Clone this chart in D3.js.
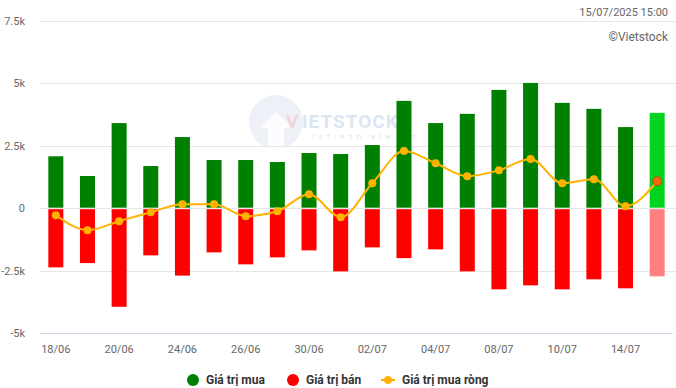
<html>
	<head>
		<script src="https://d3js.org/d3.v7.min.js"></script>
		<style>
			body { margin: 0; background: #fff; }
			svg { font-family: Roboto, sans-serif; }
			.axis text { fill: #666; font-size: 11px; }
			.legend text { fill: #333; font-size: 12px; font-weight: bold; }
		</style>
	</head>

	<body>
		<svg width="676" height="388"></svg>
	</body>

	<script>
		const dates = ['18/06', '19/06', '20/06', '23/06', '24/06', '25/06', '26/06', '27/06', '30/06', '01/07',
			'02/07', '03/07', '04/07', '07/07', '08/07', '09/07', '10/07', '11/07', '14/07', '15/07'];
		const buy = [2080, 1290, 3410, 1690, 2850, 1930, 1930, 1850, 2210, 2170,
			2530, 4300, 3410, 3780, 4740, 5020, 4220, 3980, 3250, 3820];
		const sell = [-2370, -2200, -3950, -1890, -2700, -1770, -2250, -1970, -1690, -2530,
			-1570, -2000, -1650, -2530, -3250, -3090, -3250, -2850, -3210, -2730];
		const net = [-280, -880, -520, -160, 160, 160, -320, -120, 560, -360,
			1000, 2290, 1800, 1280, 1520, 1970, 1000, 1160, 80, 1080];
		const yTicks = [-5000, -2500, 0, 2500, 5000, 7500];

		const svg = d3.select('svg');
		const last = dates.length - 1;

		const x = d3.scaleBand()
			.domain(dates)
			.range([40, 673])
			.paddingInner(0.526)
			.paddingOuter(0.263);

		const y = d3.scaleLinear()
			.domain([-5000, 7500])
			.range([333, 21]);

		// watermark
		const wm = svg.append('g');
		wm.append('circle').attr('cx', 276).attr('cy', 122).attr('r', 27)
			.attr('fill', '#9db4d2').attr('opacity', 0.18);
		wm.append('path').attr('d', 'M268,150 L268,128 L260,128 L276,112 L292,128 L284,128 L284,150 Z')
			.attr('fill', '#fff').attr('opacity', 0.8);
		wm.append('text').attr('x', 286).attr('y', 128)
			.attr('font-size', 19).attr('font-weight', 'bold').attr('fill', '#f4c4c8')
			.attr('letter-spacing', 1).attr('opacity', 0.6).text('V');
		wm.append('text').attr('x', 302).attr('y', 128)
			.attr('font-size', 19).attr('font-weight', 'bold').attr('fill', '#c6d6ea')
			.attr('letter-spacing', 1).attr('opacity', 0.6).text('IETSTOCK');
		wm.append('text').attr('x', 312).attr('y', 139)
			.attr('font-size', 8).attr('fill', '#c6d6ea')
			.attr('letter-spacing', 4).attr('opacity', 0.6).text('refresh always');

		// grid
		svg.append('g')
			.selectAll('line')
			.data(yTicks.filter(d => d !== -5000))
			.join('line')
			.attr('x1', 40).attr('x2', 676)
			.attr('y1', d => Math.round(y(d)) + 0.5)
			.attr('y2', d => Math.round(y(d)) + 0.5)
			.attr('stroke', '#e6e6e6');

		svg.append('line')
			.attr('x1', 40).attr('x2', 673)
			.attr('y1', 333.5).attr('y2', 333.5)
			.attr('stroke', '#ccd6eb');

		// y labels
		svg.append('g')
			.attr('class', 'axis')
			.selectAll('text')
			.data(yTicks)
			.join('text')
			.attr('x', 25)
			.attr('y', d => y(d) + 4)
			.attr('text-anchor', 'end')
			.text(d => d === 0 ? '0' : (d / 1000) + 'k');

		// x labels
		svg.append('g')
			.attr('class', 'axis')
			.selectAll('text')
			.data(dates.filter((d, i) => i % 2 === 0))
			.join('text')
			.attr('x', d => x(d) + x.bandwidth() / 2)
			.attr('y', 353)
			.attr('text-anchor', 'middle')
			.text(d => d);

		// bars
		svg.append('g')
			.selectAll('rect')
			.data(buy)
			.join('rect')
			.attr('x', (d, i) => x(dates[i]))
			.attr('y', d => y(d))
			.attr('width', x.bandwidth())
			.attr('height', d => y(0) - y(d) - 0.5)
			.attr('fill', (d, i) => i === last ? '#00d41e' : '#008000');

		svg.append('g')
			.selectAll('rect')
			.data(sell)
			.join('rect')
			.attr('x', (d, i) => x(dates[i]))
			.attr('y', y(0) + 1)
			.attr('width', x.bandwidth())
			.attr('height', d => y(d) - y(0) - 1)
			.attr('fill', (d, i) => i === last ? '#ff8080' : '#ff0000');

		// net line
		const line = d3.line()
			.x((d, i) => x(dates[i]) + x.bandwidth() / 2)
			.y(d => y(d))
			.curve(d3.curveMonotoneX);

		svg.append('path')
			.datum(net)
			.attr('d', line)
			.attr('fill', 'none')
			.attr('stroke', '#ffb300')
			.attr('stroke-width', 2);

		svg.append('g')
			.selectAll('circle')
			.data(net)
			.join('circle')
			.attr('cx', (d, i) => x(dates[i]) + x.bandwidth() / 2)
			.attr('cy', d => y(d))
			.attr('r', (d, i) => i === last ? 4.5 : 4)
			.attr('fill', (d, i) => i === last ? '#f26b0a' : '#ffb300')
			.attr('stroke', (d, i) => i === last ? '#b4520c' : 'none')
			.attr('stroke-width', 1);

		// titles
		svg.append('text')
			.attr('x', 668).attr('y', 16)
			.attr('text-anchor', 'end')
			.attr('font-size', 11).attr('fill', '#666')
			.text('15/07/2025 15:00');
		svg.append('text')
			.attr('x', 668).attr('y', 41)
			.attr('text-anchor', 'end')
			.attr('font-size', 12).attr('fill', '#666')
			.text('©Vietstock');

		// legend
		const legend = svg.append('g').attr('class', 'legend');
		legend.append('circle').attr('cx', 193).attr('cy', 380).attr('r', 6).attr('fill', '#008000');
		legend.append('text').attr('x', 206).attr('y', 384).text('Giá trị mua');
		legend.append('circle').attr('cx', 293).attr('cy', 380).attr('r', 6).attr('fill', '#ff0000');
		legend.append('text').attr('x', 306).attr('y', 384).text('Giá trị bán');
		legend.append('line').attr('x1', 381).attr('x2', 395).attr('y1', 380).attr('y2', 380)
			.attr('stroke', '#ffb300').attr('stroke-width', 2);
		legend.append('circle').attr('cx', 388).attr('cy', 380).attr('r', 4).attr('fill', '#ffb300');
		legend.append('text').attr('x', 402).attr('y', 384).text('Giá trị mua ròng');
	</script>

</html>
